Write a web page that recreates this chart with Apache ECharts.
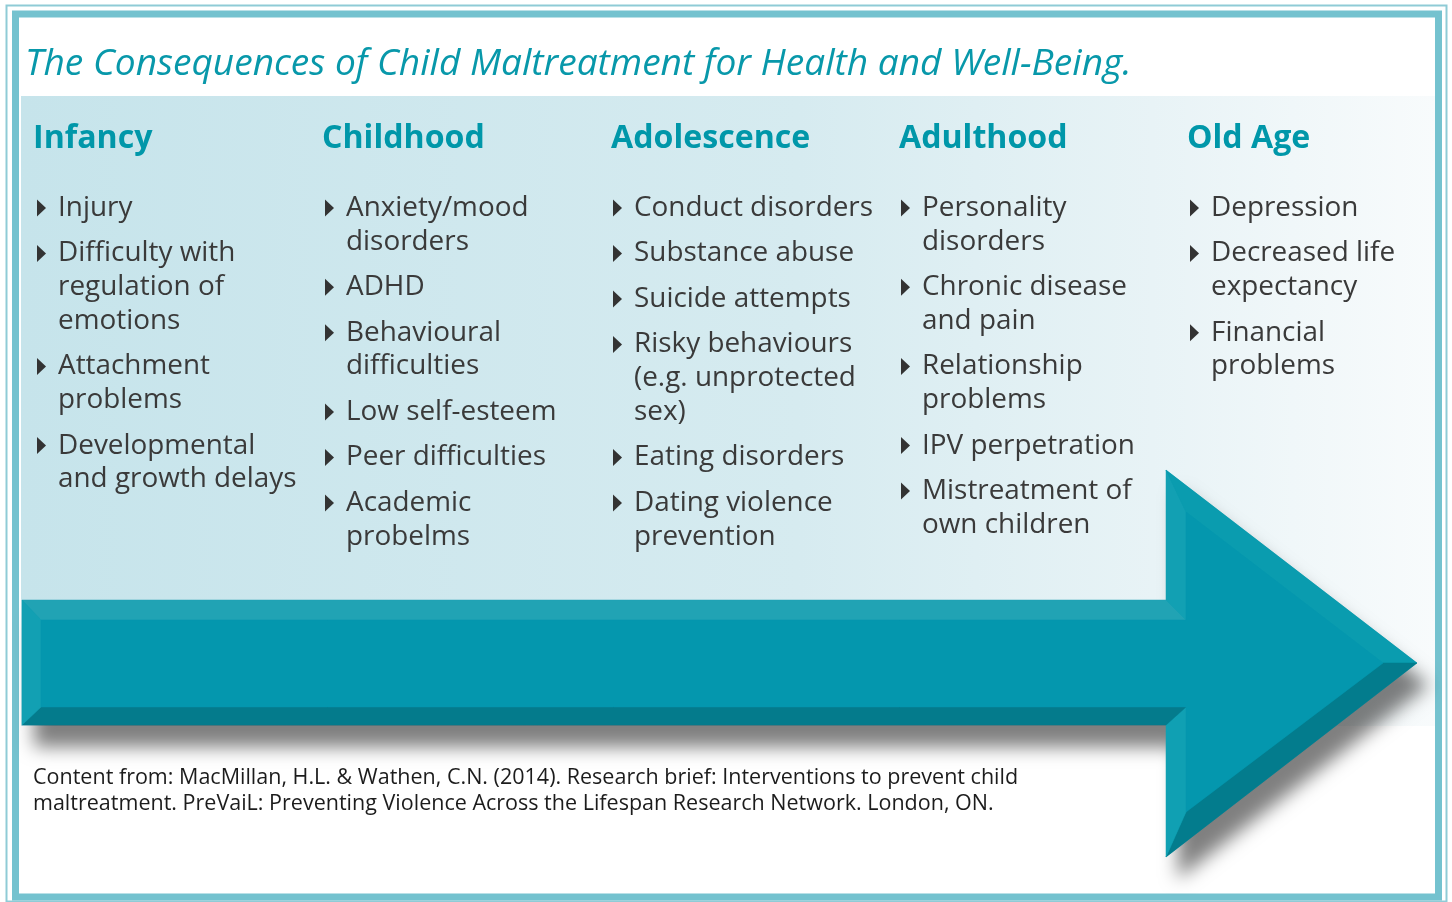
<!DOCTYPE html>
<html lang="en">
<head>
    <meta charset="UTF-8">
    <title>Consequences of Child Maltreatment</title>
    <script src="https://cdn.jsdelivr.net/npm/echarts@6/dist/echarts.min.js"></script>
    <style>
        html, body { margin: 0; padding: 0; background: #fff; }
        #main { width: 1452px; height: 902px; }
    </style>
</head>
<body>
<div id="main"></div>
<script type="text/javascript">
    // content
    var title = 'The Consequences of Child Maltreatment for Health and Well-Being.';
    var stages = ['Infancy', 'Childhood', 'Adolescence', 'Adulthood', 'Old Age'];
    var infancy = [['Injury'], ['Difficulty with', 'regulation of', 'emotions'], ['Attachment', 'problems'], ['Developmental', 'and growth delays']];
    var childhood = [['Anxiety/mood', 'disorders'], ['ADHD'], ['Behavioural', 'difficulties'], ['Low self-esteem'], ['Peer difficulties'], ['Academic', 'probelms']];
    var adolescence = [['Conduct disorders'], ['Substance abuse'], ['Suicide attempts'], ['Risky behaviours', '(e.g. unprotected', 'sex)'], ['Eating disorders'], ['Dating violence', 'prevention']];
    var adulthood = [['Personality', 'disorders'], ['Chronic disease', 'and pain'], ['Relationship', 'problems'], ['IPV perpetration'], ['Mistreatment of', 'own children']];
    var oldAge = [['Depression'], ['Decreased life', 'expectancy'], ['Financial', 'problems']];
    var footer = ['Content from: MacMillan, H.L. & Wathen, C.N. (2014). Research brief: Interventions to prevent child',
        'maltreatment. PreVaiL: Preventing Violence Across the Lifespan Research Network. London, ON.'];

    var columns = [infancy, childhood, adolescence, adulthood, oldAge];
    var headX = [33, 322, 611, 899, 1187];
    var textX = [58, 346, 634, 922, 1211];

    var FONT = '"Open Sans", "Noto Sans", sans-serif';
    var ctx = document.createElement('canvas').getContext('2d');
    // pick a font size so reference strings get the widths seen in the picture
    function fit(texts, style, weight, target) {
        ctx.font = style + ' ' + weight + ' 100px ' + FONT;
        var w = 0;
        texts.forEach(function (t) { w += ctx.measureText(t).width; });
        return 100 * target / w;
    }
    var titleSize = fit([title], 'italic', 'normal', 1107);
    var headSize = fit(stages, 'normal', 'bold', 119 + 166 + 185 + 173 + 131);
    var bodySize = fit(['Conduct disorders', 'and growth delays', 'IPV perpetration', 'Developmental'], 'normal', 'normal', 234 + 242 + 215 + 197);
    var footSize = fit([footer[0]], 'normal', 'normal', 986);

    var els = [];

    // frame
    els.push({ type: 'rect', shape: { x: 6.5, y: 5.5, width: 1440, height: 896 }, style: { fill: 'none', stroke: '#8fcbd6', lineWidth: 2 } });
    els.push({ type: 'rect', shape: { x: 15.5, y: 14, width: 1423, height: 883 }, style: { fill: '#fff', stroke: '#74c2cf', lineWidth: 7 } });

    // panel behind the columns
    els.push({
        type: 'rect', shape: { x: 21, y: 96, width: 1414, height: 630 },
        style: {
            fill: new echarts.graphic.LinearGradient(0, 0, 1, 0, [
                { offset: 0, color: '#c6e4eb' },
                { offset: 0.55, color: '#d6ebf0' },
                { offset: 0.8, color: '#e8f3f6' },
                { offset: 1, color: '#f8fbfc' }
            ])
        }
    });

    // arrow with bevelled faces
    var outer = [[22, 600], [1166, 600], [1166, 470], [1417, 663], [1166, 857], [1166, 725], [22, 725]];
    var inner = [[41, 620], [1186, 620], [1186, 512], [1383, 663], [1186, 812], [1186, 707], [41, 707]];
    var faceColors = ['#21a3b4', '#12a0b3', '#0a9caf', '#037c8d', '#10a0b3', '#047b8c', '#12a0b3'];
    els.push({
        type: 'polygon', shape: { points: outer },
        style: { fill: '#0497ae', shadowBlur: 18, shadowColor: 'rgba(0,0,0,0.5)', shadowOffsetX: 12, shadowOffsetY: 22 }
    });
    for (var i = 0; i < outer.length; i++) {
        var j = (i + 1) % outer.length;
        els.push({
            type: 'polygon', shape: { points: [outer[i], outer[j], inner[j], inner[i]] },
            style: { fill: faceColors[i], stroke: faceColors[i], lineWidth: 0.5 }
        });
    }
    els.push({ type: 'polygon', shape: { points: inner }, style: { fill: '#0497ae', stroke: '#0497ae', lineWidth: 0.5 } });

    // title
    els.push({
        type: 'text', x: 25, y: 64,
        style: { text: title, font: 'italic normal ' + titleSize + 'px ' + FONT, fill: '#0898aa', verticalAlign: 'middle' }
    });

    // columns
    var lineGap = 33.7, itemGap = 45.5;
    columns.forEach(function (items, c) {
        var x = textX[c];
        els.push({
            type: 'text', x: headX[c], y: 139,
            style: { text: stages[c], font: 'normal bold ' + headSize + 'px ' + FONT, fill: '#0097a9', verticalAlign: 'middle' }
        });
        var y = 208;
        items.forEach(function (lines, k) {
            if (k > 0) y += itemGap;
            els.push({
                type: 'polygon', shape: { points: [[x - 21, y - 8.5], [x - 12, y], [x - 21, y + 8.5]] },
                style: { fill: '#333' }
            });
            lines.forEach(function (t, m) {
                if (m > 0) y += lineGap;
                els.push({
                    type: 'text', x: x, y: y,
                    style: { text: t, font: 'normal normal ' + bodySize + 'px ' + FONT, fill: '#3a3a3a', verticalAlign: 'middle' }
                });
            });
        });
    });

    // source note
    footer.forEach(function (t, k) {
        els.push({
            type: 'text', x: 33, y: 778 + k * 26,
            style: { text: t, font: 'normal normal ' + footSize + 'px ' + FONT, fill: '#1c1c1c', verticalAlign: 'middle' }
        });
    });

    var myChart = echarts.init(document.getElementById('main'));
    myChart.setOption({
        animation: false,
        graphic: { elements: els }
    });
</script>
</body>
</html>
